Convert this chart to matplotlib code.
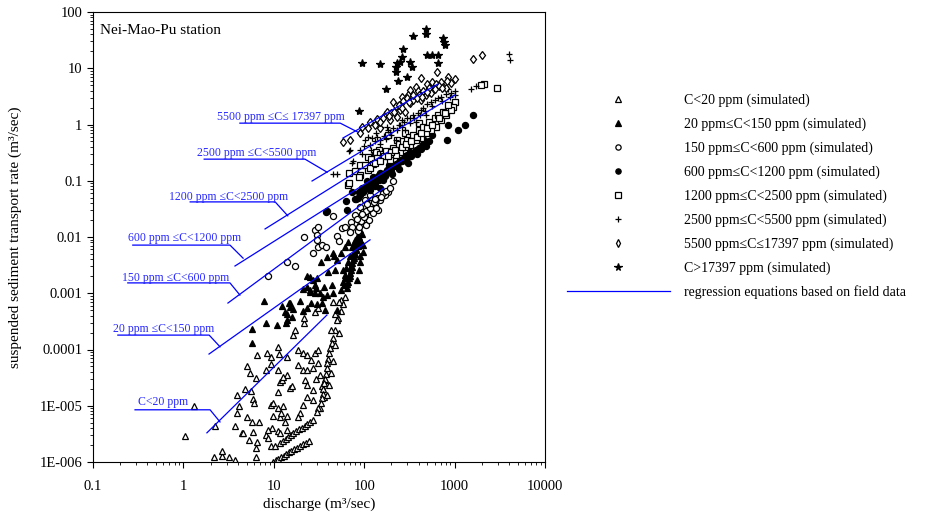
import numpy as np
import matplotlib
matplotlib.use('Agg')
import matplotlib.pyplot as plt
from matplotlib.lines import Line2D

plt.rcParams['font.family'] = ['Liberation Serif', 'DejaVu Serif']

# simulated points, (discharge m3/s, sediment transport rate m3/s)
pts_c20 = [
    (1.32, 1.0e-5), (1.03, 2.9e-6), (2.26, 4.4e-6), (2.2, 1.25e-6), (2.7, 1.3e-6), (2.7, 1.6e-6),
    (3.2, 1.25e-6), (3.76, 1.1e-6), (6.4, 1.25e-6), (3.95, 1.55e-5), (4.85, 2.0e-5), (5.6, 1.8e-5),
    (5.9, 1.3e-5), (6.1, 1.1e-5), (5.4, 3.8e-5), (6.4, 3.1e-5), (6.6, 8.0e-5), (8.4, 8.6e-5),
    (11.5, 8.3e-5), (9.2, 5.5e-5), (8.3, 4.3e-5), (11.8, 2.6e-5), (12.4, 2.9e-5), (11.0, 1.75e-5),
    (15.2, 2.1e-5), (16.0, 2.2e-5), (14.1, 3.5e-5), (4.1, 1.0e-5), (3.9, 7.5e-6), (5.1, 6.3e-6),
    (5.8, 5.2e-6), (6.9, 5.2e-6), (3.76, 4.4e-6), (4.5, 3.3e-6), (5.3, 2.5e-6), (6.6, 2.3e-6),
    (6.4, 1.8e-6), (8.1, 3.0e-6), (9.2, 1.03e-5), (9.8, 1.1e-5), (11.2, 9.3e-6), (9.8, 6.5e-6),
    (11.8, 6.2e-6), (13.4, 5.2e-6), (9.5, 4.1e-6), (11.0, 3.5e-6), (11.8, 3.3e-6), (14.1, 3.7e-6),
    (14.1, 6.5e-6), (12.1, 7.5e-6), (16.5, 1.8e-4), (17.3, 2.2e-4), (18.5, 9.8e-5), (20.9, 8.6e-5),
    (23.5, 8.0e-5), (28.9, 8.8e-5), (31, 9.8e-5), (18.5, 5.3e-5), (20.9, 4.3e-5), (23.5, 4.3e-5),
    (31, 5.8e-5), (22.4, 2.9e-5), (23.5, 2.3e-5), (27, 1.9e-5), (23.5, 1.45e-5), (27, 1.27e-5),
    (20.9, 1.03e-5), (19.7, 7.5e-6), (18.5, 6.3e-6), (32.8, 3.5e-5), (37.3, 2.9e-5), (34.5, 2.2e-5),
    (35.5, 1.45e-5), (32.8, 9.3e-6), (11.2, 1.1e-4), (14.1, 7.5e-5), (5.1, 5.0e-5), (11.0, 4.3e-5),
    (9.2, 7.5e-5), (12.8, 3.3e-5), (12.8, 1.0e-5), (8.6, 3.7e-6), (8.6, 2.7e-6), (9.2, 1.9e-6),
    (10.4, 1.9e-6), (4.6, 3.3e-6), (5.9, 3.4e-6), (21.5, 3.0e-4), (21.5, 3.6e-4), (28.9, 4.6e-4),
    (31, 5.5e-4), (45, 6.9e-4), (51, 3.7e-4), (55, 7.6e-4),
    # steep column at the knee
    (50, 3.4e-4), (48, 2.2e-4), (45, 1.6e-4), (44, 1.3e-4), (42, 1.05e-4), (41, 8.6e-5),
    (40, 6.9e-5), (39, 5.8e-5), (39, 4.6e-5), (38, 3.7e-5), (37, 3.0e-5), (36, 2.5e-5),
    (35, 2.0e-5), (35, 1.65e-5), (34, 1.35e-5), (33, 1.1e-5), (31, 9.0e-6), (30, 7.8e-6),
    (43, 2.2e-4), (47, 4.2e-4), (55, 4.9e-4), (58, 6.5e-4), (61, 8.5e-4), (52, 6.9e-4),
    (45, 6.3e-5), (43, 3.9e-5), (41, 2.3e-5), (39, 1.55e-5), (48, 1.2e-4), (53, 2.0e-4),
    (29, 3.0e-5), (27, 4.6e-5), (26, 6.5e-5),
    # two tight rows near the bottom
    (9.8, 1.0e-6), (10.5, 1.08e-6), (11.2, 1.13e-6), (12.0, 1.22e-6), (12.9, 1.3e-6), (13.7, 1.37e-6),
    (14.7, 1.48e-6), (15.6, 1.55e-6), (16.8, 1.68e-6), (18.0, 1.8e-6), (19.4, 1.92e-6), (21.0, 2.06e-6),
    (22.8, 2.2e-6), (24.8, 2.4e-6),
    (11.8, 2.2e-6), (12.6, 2.4e-6), (13.5, 2.6e-6), (14.4, 2.8e-6), (15.4, 3.0e-6), (16.5, 3.25e-6),
    (17.7, 3.5e-6), (19.0, 3.8e-6), (20.4, 4.1e-6), (21.9, 4.45e-6), (23.5, 4.8e-6), (25.2, 5.2e-6),
    (27.0, 5.6e-6),
]

pts_20_150 = [
    (7.8, 7.3e-4), (5.7, 2.3e-4), (5.7, 1.3e-4), (8.3, 3.0e-4), (10.9, 2.7e-4), (13.6, 3.0e-4),
    (12.2, 5.9e-4), (13.4, 4.6e-4), (15.8, 3.8e-4), (15.2, 5.6e-4), (19.7, 7.4e-4), (26, 6.8e-4),
    (23.5, 1.3e-3), (25.4, 1.05e-3), (14.1, 3.4e-4), (14.7, 6.8e-4), (23, 5.5e-4), (28.9, 1.4e-3),
    (23.5, 2.0e-3), (25.4, 1.95e-3), (30, 1.85e-3), (28.9, 1.0e-3), (35, 8.5e-4), (36, 1.3e-3),
    (44, 1.4e-3), (48, 2.6e-3), (40, 2.35e-3), (45, 5.1e-3), (39, 4.4e-3), (50, 3.9e-3),
    (58, 2.6e-3), (33.5, 3.6e-3), (46, 4.6e-3), (56, 5.1e-3), (62, 6.6e-3), (66, 8.0e-3),
    (27, 1.7e-3), (21, 1.2e-3), (25.4, 1.15e-3), (29.5, 1.25e-3), (32.8, 1.0e-3), (39, 9.4e-4),
    (45, 1.0e-3), (15.2, 6.8e-4), (30, 6.5e-4), (34, 6.8e-4), (14.1, 4.2e-4), (16.5, 5.2e-4),
    (21, 4.9e-4), (37, 5.1e-4), (50, 5.1e-4),
    (64, 1.25e-3), (67, 1.6e-3), (70, 2.0e-3), (72, 2.6e-3), (74, 3.4e-3), (77, 4.3e-3),
    (78, 5.5e-3), (80, 7.0e-3), (85, 8.9e-3), (58, 1.6e-3), (62, 2.1e-3), (63, 2.8e-3),
    (66, 3.6e-3), (70, 4.6e-3), (55, 1.15e-3), (83, 1.7e-3), (87, 2.6e-3), (91, 3.6e-3),
    (96, 5.5e-3), (98, 7.2e-3), (89, 4.6e-3), (80, 8.9e-3), (85, 1.09e-2), (89, 1.33e-2),
    (94, 1.15e-2), (87, 7.2e-3), (74, 6.6e-3), (78, 7.9e-3), (91, 8.9e-3),
    (60, 1.4e-3), (68, 1.9e-3), (71, 3.0e-3), (75, 3.9e-3), (79, 5.0e-3), (82, 6.2e-3),
    (84, 7.8e-3), (69, 2.3e-3), (73, 2.9e-3), (76, 4.8e-3), (81, 5.8e-3), (86, 6.8e-3),
    (92, 8.0e-3), (88, 9.8e-3), (65, 1.45e-3), (61, 1.9e-3),
]

pts_150_600 = [
    (8.6, 2.0e-3), (14, 3.6e-3), (17.3, 3.0e-3), (21.5, 1.01e-2), (28.9, 1.35e-2), (31, 1.5e-2),
    (30, 1.07e-2), (30, 8.9e-3), (31, 6.6e-3), (27, 5.2e-3), (34, 7.2e-3), (38, 6.6e-3),
    (45, 2.36e-2), (50, 1.05e-2), (52, 8.5e-3), (57, 1.44e-2), (62, 1.5e-2), (72, 1.85e-2),
    (74, 1.5e-2), (70, 1.22e-2), (81, 4.7e-2), (183, 6.3e-2), (210, 9.8e-2),
    (80, 2.5e-2), (91, 3.4e-2), (103, 4.6e-2), (117, 5.6e-2), (133, 3.7e-2), (151, 4.55e-2),
    (172, 5.6e-2), (143, 3.0e-2), (91, 1.64e-2), (98, 2.01e-2), (103, 2.46e-2), (110, 3.02e-2),
    (117, 3.71e-2), (122, 4.55e-2), (105, 1.64e-2), (113, 2.01e-2), (125, 2.7e-2), (136, 3.3e-2),
    (96, 2.8e-2),
    (86, 1.3e-2), (93, 1.9e-2), (99, 2.3e-2), (106, 2.9e-2), (115, 3.3e-2), (120, 4.0e-2),
    (128, 4.2e-2), (84, 2.1e-2), (95, 2.6e-2), (108, 3.8e-2), (140, 5.0e-2), (160, 6.0e-2),
    (88, 1.5e-2), (130, 4.7e-2), (155, 5.2e-2), (175, 6.5e-2), (195, 7.5e-2),
]

pts_600_1200 = [
    (63, 4.3e-2), (38, 2.8e-2), (65, 3.0e-2), (74, 6.4e-2), (39, 2.9e-2), (80, 4.7e-2),
    (151, 7.5e-2), (305, 0.21), (420, 0.40), (460, 0.53), (565, 0.65), (840, 1.0),
    (1100, 0.8), (1300, 1.0), (1590, 1.5), (815, 0.53),
    (100, 6.9e-2), (110, 8.4e-2), (122, 9.5e-2), (136, 0.11), (151, 0.127), (172, 0.14),
    (195, 0.17), (222, 0.2), (252, 0.234), (286, 0.27), (325, 0.32), (370, 0.353),
    (91, 5.6e-2), (117, 6.9e-2), (133, 8.0e-2), (163, 0.103), (205, 0.13), (240, 0.165),
    (95, 7.5e-2), (105, 7.6e-2), (115, 9.0e-2), (128, 0.1), (142, 0.12), (158, 0.13),
    (180, 0.155), (215, 0.18), (235, 0.21), (270, 0.24), (300, 0.29), (345, 0.31),
    (400, 0.38), (450, 0.45), (520, 0.5), (88, 0.064), (108, 0.098), (125, 0.115),
    (150, 0.14), (190, 0.19),
    (85, 0.05), (98, 0.062), (112, 0.075), (130, 0.088), (145, 0.105), (170, 0.12),
    (200, 0.15), (230, 0.18), (260, 0.22), (290, 0.23), (330, 0.27), (380, 0.3),
    (430, 0.36), (480, 0.42),
]

pts_1200_2500 = [
    (66, 8.4e-2), (68, 0.138), (80, 0.15), (91, 0.127), (110, 0.156), (110, 0.26),
    (133, 0.287), (147, 0.353), (183, 0.65), (230, 0.53), (286, 0.71), (400, 1.05),
    (616, 0.9), (68, 9.2e-2), (88, 0.116), (136, 0.32), (151, 0.30), (1000, 2.5),
    (960, 2.05), (2100, 5.2), (1950, 5.0), (2950, 4.5),
    (195, 0.234), (252, 0.33), (325, 0.43), (420, 0.57), (542, 0.8), (700, 1.2),
    (795, 1.48), (903, 1.81), (222, 0.287), (286, 0.4), (370, 0.53), (477, 0.7),
    (91, 0.19), (103, 0.19),
    (120, 0.24), (140, 0.25), (160, 0.3), (175, 0.34), (210, 0.38), (240, 0.45),
    (270, 0.5), (310, 0.6), (350, 0.65), (400, 0.8), (450, 0.9), (520, 1.1),
    (600, 1.3), (650, 1.5), (750, 1.7), (850, 2.2), (125, 0.2), (165, 0.27),
    (200, 0.33), (300, 0.52),
    (115, 0.17), (130, 0.21), (150, 0.22), (185, 0.28), (220, 0.35), (260, 0.4),
    (290, 0.45), (330, 0.5), (380, 0.6), (430, 0.7), (490, 0.85), (560, 1.0),
    (680, 1.3), (780, 1.6),
]

pts_2500_5500 = [
    (45, 0.13), (68, 0.34), (74, 0.21), (155, 0.9), (180, 0.9), (140, 0.6),
    (1510, 4.3), (1715, 4.8), (4000, 18), (4100, 14), (50, 0.13), (70, 0.353), (76, 0.22),
    (91, 0.353), (117, 0.43), (151, 0.53), (195, 0.74), (252, 0.98), (325, 1.3),
    (420, 1.8), (542, 2.5), (700, 3.1), (903, 3.7), (1000, 3.35), (222, 0.53),
    (286, 0.8), (370, 1.1), (477, 1.48), (103, 0.53), (122, 0.57),
    (100, 0.42), (130, 0.5), (165, 0.62), (185, 0.8), (210, 0.85), (240, 1.0),
    (275, 1.1), (300, 1.3), (350, 1.5), (390, 1.6), (450, 2.0), (500, 2.3),
    (600, 2.7), (650, 3.0), (800, 3.5), (850, 4.2), (1000, 4.0), (110, 0.6),
    (135, 0.7), (260, 1.2),
    (95, 0.3), (120, 0.35), (150, 0.45), (175, 0.55), (200, 0.65), (230, 0.8),
    (265, 0.9), (320, 1.05), (360, 1.3), (410, 1.5), (470, 1.75), (560, 2.1),
    (720, 2.6), (880, 3.1),
]

pts_5500_17397 = [
    (58, 0.49), (151, 0.87), (208, 2.5), (286, 1.65), (265, 3.1), (325, 2.4),
    (640, 8.6), (850, 6.9), (1000, 6.4), (430, 6.6), (500, 5.2), (590, 5.0),
    (700, 5.7), (750, 4.7), (370, 4.7), (390, 3.9), (325, 4.1), (305, 3.35),
    (230, 1.35), (1590, 14.5), (2000, 17.2),
    (195, 1.2), (252, 1.8), (420, 2.7), (542, 3.7), (795, 4.5), (903, 5.4),
    (477, 3.35), (345, 2.7), (222, 2.1), (172, 1.48), (117, 1.1), (91, 0.72), (70, 0.53),
    (130, 1.0), (160, 1.3), (180, 1.7), (240, 2.2), (270, 2.6), (300, 2.9),
    (350, 3.3), (400, 3.4), (450, 4.0), (520, 4.4), (560, 5.6), (620, 5.2),
    (680, 4.8), (820, 5.9), (95, 0.9), (110, 0.85), (140, 1.25), (200, 1.6),
    (150, 1.1), (190, 1.4), (215, 1.7), (260, 2.0), (310, 2.5), (380, 2.9),
    (440, 3.1), (500, 3.8), (600, 4.2), (720, 4.5),
]

pts_17397 = [
    (483, 50), (483, 41), (347, 37), (740, 34), (760, 29), (790, 26), (270, 22), (262, 15.8),
    (490, 17), (560, 17), (650, 17), (650, 12.4), (95, 12.4), (150, 12), (230, 12.3),
    (250, 12.8), (222, 10.5), (222, 8.7), (325, 12.8), (335, 10.5), (173, 4.3), (237, 5.9),
    (295, 7.0), (87, 1.75),
]

# regression lines based on field data: end points (Q, S)
reg_names = ['C<20 ppm', '20 ppm \u2264C<150 ppm', '150 ppm \u2264C<600 ppm',
             '600 ppm \u2264C<1200 ppm', '1200 ppm \u2264C<2500 ppm',
             '2500 ppm \u2264C<5500 ppm', '5500 ppm \u2264C\u2264 17397 ppm']
reg_q = [(1.82, 38.7), (1.92, 116), (3.11, 165), (3.72, 268), (8.0, 183), (26.5, 1009), (58.2, 655)]
reg_s = [(3.3e-6, 4.1e-4), (8.3e-5, 8.9e-3), (6.7e-4, 0.074), (3.05e-3, 0.234),
         (0.0139, 0.324), (0.099, 3.34), (0.575, 5.25)]

# label layout in axes fraction: text (x, y), underline x0, x1, y, leader end (x, y)
lab_text = [(0.0996, 0.133), (0.0442, 0.296), (0.0642, 0.409), (0.0774, 0.498),
            (0.1681, 0.589), (0.2301, 0.687), (0.2743, 0.767)]
lab_line = [(0.093, 0.259, 0.116, 0.281, 0.089), (0.055, 0.257, 0.282, 0.281, 0.256),
            (0.077, 0.303, 0.398, 0.325, 0.371), (0.088, 0.303, 0.482, 0.332, 0.453),
            (0.215, 0.403, 0.578, 0.431, 0.547), (0.246, 0.469, 0.673, 0.518, 0.644),
            (0.325, 0.547, 0.753, 0.586, 0.733)]

series = [
    ('C<20 ppm (simulated)', pts_c20, '^', 'white'),
    ('20 ppm\u2264C<150 ppm (simulated)', pts_20_150, '^', 'black'),
    ('150 ppm\u2264C<600 ppm (simulated)', pts_150_600, 'o', 'white'),
    ('600 ppm\u2264C<1200 ppm (simulated)', pts_600_1200, 'o', 'black'),
    ('1200 ppm\u2264C<2500 ppm (simulated)', pts_1200_2500, 's', 'white'),
    ('2500 ppm\u2264C<5500 ppm (simulated)', pts_2500_5500, '+', 'black'),
    ('5500 ppm\u2264C\u226417397 ppm (simulated)', pts_5500_17397, 'd', 'white'),
    ('C>17397 ppm (simulated)', pts_17397, '*', 'black'),
]

fig = plt.figure(figsize=(9.35, 5.16), dpi=100)
ax = fig.add_axes([93 / 935, 54 / 516, 452 / 935, 450 / 516])
ax.set_xscale('log')
ax.set_yscale('log')

handles = []
for label, pts, m, fc in series:
    q, s = np.array(pts).T
    ms = 6 if m == '*' else 4.4
    ax.plot(q, s, ls='none', marker=m, ms=ms, mfc=fc, mec='black', mew=0.9)
    handles.append(Line2D([], [], ls='none', marker=m, ms=ms - 0.6, mfc=fc, mec='black', mew=0.9))

blue = '#0000ff'
for q, s in zip(reg_q, reg_s):
    ax.plot(q, s, color=blue, lw=0.9)
handles.append(Line2D([], [], color=blue, lw=0.9))

for name, (tx, ty), (x0, x1, yu, xe, ye) in zip(reg_names, lab_text, lab_line):
    ax.text(tx, ty, name, transform=ax.transAxes, color='#2a2aff', fontsize=8.5, va='center')
    ax.plot([x0, x1, xe], [yu, yu, ye], transform=ax.transAxes, color=blue, lw=0.9)

ax.set_xlim(0.1, 10000)
ax.set_ylim(1e-6, 100)
ax.set_xticks([0.1, 1, 10, 100, 1000, 10000])
ax.set_xticklabels(['0.1', '1', '10', '100', '1000', '10000'])
ax.set_yticks([1e-6, 1e-5, 1e-4, 1e-3, 1e-2, 0.1, 1, 10, 100])
ax.set_yticklabels(['1E-006', '1E-005', '0.0001', '0.001', '0.01', '0.1', '1', '10', '100'])
ax.tick_params(which='major', direction='out', length=4, width=0.8, labelsize=10.5)
ax.tick_params(which='minor', direction='out', length=2.5, width=0.6)
ax.tick_params(axis='x', which='major', pad=9)
for sp in ax.spines.values():
    sp.set_linewidth(0.8)

ax.set_xlabel('discharge (m\u00b3/sec)', fontsize=11, labelpad=3)
ax.set_ylabel('suspended sediment transport rate (m\u00b3/sec)', fontsize=11, labelpad=13)
ax.text(0.016, 0.96, 'Nei-Mao-Pu station', transform=ax.transAxes, fontsize=11, va='center')

fig.legend(handles, [s[0] for s in series] + ['regression equations based on field data'],
           loc='upper left', bbox_to_anchor=(567 / 935, 1 - 94 / 516), frameon=False,
           fontsize=10, handlelength=7.4, handletextpad=1.0, labelspacing=0.75,
           borderpad=0, borderaxespad=0)

fig.savefig('out.png', dpi=100)
